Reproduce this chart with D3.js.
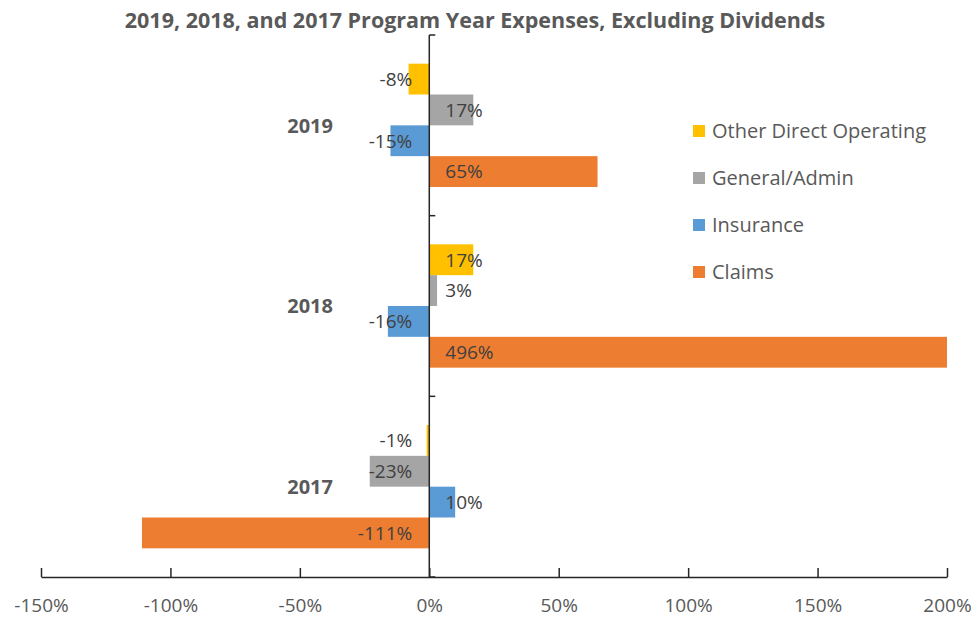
<!DOCTYPE html>
<html>
<head>
<meta charset="utf-8">
<script src="https://cdn.jsdelivr.net/npm/d3@7"></script>
<style>
  html, body { margin: 0; padding: 0; background: #ffffff; }
  svg { display: block; font-family: "Open Sans", "Noto Sans", sans-serif; }
</style>
</head>
<body>
<svg id="chart" width="975" height="619"></svg>
<script>
// ==============================
// DATA
// ==============================

const years = ["2019", "2018", "2017"];
const seriesNames = ["Other Direct Operating", "General/Admin", "Insurance", "Claims"];

// percent change by year, in the same order as years
const otherDirect = [-8, 17, -1];
const generalAdmin = [17, 3, -23];
const insurance = [-15, -16, 10];
const claims = [65, 496, -111];

const xTicks = [-150, -100, -50, 0, 50, 100, 150, 200];

const seriesColors = ["#ffc000", "#a5a5a5", "#5b9bd5", "#ed7d31"];

// ==============================
// LAYOUT
// ==============================

const svg = d3.select("#chart");
const plotLeft = 41, plotRight = 947, plotTop = 35, plotBottom = 577;

const x = d3.scaleLinear()
  .domain([-150, 200])
  .range([plotLeft, plotRight])
  .clamp(true);

const y = d3.scaleBand()
  .domain(years)
  .range([plotTop, plotBottom])
  .padding(0);

const ySeries = d3.scaleBand()
  .domain(seriesNames)
  .range([0, y.bandwidth()])
  .paddingInner(0)
  .paddingOuter(0.93);

const valuesBySeries = [otherDirect, generalAdmin, insurance, claims];

const rows = [];
years.forEach((year, i) => {
  seriesNames.forEach((name, s) => {
    rows.push({ year, name, value: valuesBySeries[s][i], color: seriesColors[s] });
  });
});

// ==============================
// TITLE
// ==============================

svg.append("text")
  .attr("x", 475)
  .attr("y", 28)
  .attr("text-anchor", "middle")
  .attr("font-size", "21.5px")
  .attr("font-weight", "700")
  .attr("fill", "#595959")
  .text("2019, 2018, and 2017 Program Year Expenses, Excluding Dividends");

// ==============================
// BARS
// ==============================

svg.append("g")
  .selectAll("rect")
  .data(rows)
  .enter()
  .append("rect")
  .attr("x", d => Math.min(x(0), x(d.value)))
  .attr("y", d => y(d.year) + ySeries(d.name))
  .attr("width", d => Math.abs(x(d.value) - x(0)))
  .attr("height", ySeries.bandwidth())
  .attr("fill", d => d.color);

// ==============================
// AXES
// ==============================

const xAxis = d3.axisBottom(x)
  .tickValues(xTicks)
  .tickFormat(d => d + "%")
  .tickSizeInner(-9)
  .tickSizeOuter(0)
  .tickPadding(22);

const xAxisGroup = svg.append("g")
  .attr("transform", `translate(0,${plotBottom})`)
  .call(xAxis);

xAxisGroup.select(".domain")
  .attr("stroke", "#262626")
  .attr("stroke-width", 1.5);

xAxisGroup.selectAll(".tick line")
  .attr("stroke", "#262626")
  .attr("stroke-width", 1.5);

xAxisGroup.selectAll(".tick text")
  .attr("fill", "#595959")
  .attr("font-size", "19px")
  .attr("font-family", "\"Open Sans\", sans-serif");

// vertical axis at zero with ticks on category boundaries
const yAxisGroup = svg.append("g");

yAxisGroup.append("line")
  .attr("x1", x(0))
  .attr("x2", x(0))
  .attr("y1", plotTop)
  .attr("y2", plotBottom)
  .attr("stroke", "#262626")
  .attr("stroke-width", 1.5);

const boundaries = years.map(yr => y(yr)).concat([plotBottom]);

yAxisGroup.selectAll(".ytick")
  .data(boundaries)
  .enter()
  .append("line")
  .attr("x1", x(0))
  .attr("x2", x(0) + 6)
  .attr("y1", d => d)
  .attr("y2", d => d)
  .attr("stroke", "#262626")
  .attr("stroke-width", 1.5);

// year labels
svg.append("g")
  .selectAll("text")
  .data(years)
  .enter()
  .append("text")
  .attr("x", 333)
  .attr("y", d => y(d) + y.bandwidth() / 2)
  .attr("dy", "0.36em")
  .attr("text-anchor", "end")
  .attr("font-size", "20px")
  .attr("font-weight", "700")
  .attr("fill", "#595959")
  .text(d => d);

// ==============================
// DATA LABELS (inside base)
// ==============================

svg.append("g")
  .selectAll("text")
  .data(rows)
  .enter()
  .append("text")
  .attr("x", d => d.value >= 0 ? x(0) + 16 : x(0) - 17)
  .attr("y", d => y(d.year) + ySeries(d.name) + ySeries.bandwidth() / 2)
  .attr("dy", "0.36em")
  .attr("text-anchor", d => d.value >= 0 ? "start" : "end")
  .attr("font-size", "19px")
  .attr("fill", "#404040")
  .text(d => d.value + "%");

// ==============================
// LEGEND
// ==============================

const legend = svg.append("g")
  .selectAll("g")
  .data(seriesNames)
  .enter()
  .append("g")
  .attr("transform", (d, i) => `translate(693,${131 + i * 47})`);

legend.append("rect")
  .attr("x", 0)
  .attr("y", -6)
  .attr("width", 12)
  .attr("height", 12)
  .attr("fill", (d, i) => seriesColors[i]);

legend.append("text")
  .attr("x", 19)
  .attr("y", 0)
  .attr("dy", "0.36em")
  .attr("font-size", "20px")
  .attr("fill", "#595959")
  .text(d => d);
</script>
</body>
</html>
